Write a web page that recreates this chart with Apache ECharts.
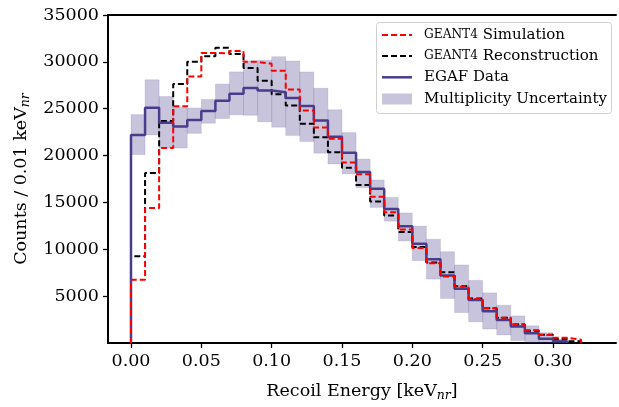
<!DOCTYPE html>
<html>
<head>
<meta charset="utf-8">
<script src="https://cdn.jsdelivr.net/npm/echarts@6/dist/echarts.min.js"></script>
<style>
html,body{margin:0;padding:0;background:#fff;}
#c{width:619px;height:407px;}
</style>
</head>
<body>
<div id="c"></div>
<script>
// Bin width (keV_nr) and histogram values per bin, starting at 0.00
var binWidth = 0.01;
var simValues = [6750, 14400, 20800, 25250, 28450, 30950, 30900, 31150, 30000, 29800, 29050, 27050, 24800, 23000, 21800, 19250, 18000, 15600, 13950, 12100, 10150, 8500, 7100, 6000, 4700, 3700, 2700, 2000, 1350, 850, 550, 350];
var recoValues = [9250, 18150, 23700, 27650, 30000, 30600, 31500, 30850, 29350, 27980, 26550, 25350, 23400, 21950, 20350, 18700, 16850, 15100, 13600, 11850, 10250, 8600, 7550, 6050, 4750, 3700, 2700, 1980, 1320, 890, 440, 200];
var dataValues = [22200, 25100, 23500, 23100, 23800, 24750, 25850, 26600, 27200, 26950, 26750, 26150, 25300, 23750, 22000, 20300, 18250, 16450, 14300, 12450, 10600, 8950, 7200, 5800, 4600, 3400, 2450, 1750, 1050, 450, 200];
var bandLower = [20100, 22200, 20800, 20800, 22370, 23450, 23950, 24350, 24300, 23600, 23030, 22130, 21490, 20260, 19100, 18050, 16580, 14470, 13000, 10890, 8790, 6820, 4750, 3250, 2260, 1490, 860, 260, 0, 0, 0];
var bandUpper = [24370, 28090, 26300, 25150, 25070, 25980, 27630, 28930, 30100, 30160, 30550, 30090, 28930, 27180, 24890, 22450, 19630, 17390, 15530, 13870, 12470, 11070, 9740, 8330, 6680, 5350, 4020, 2890, 1840, 1100, 400];
var xTicks = [0, 0.05, 0.10, 0.15, 0.20, 0.25, 0.30];
var yTicks = [5000, 10000, 15000, 20000, 25000, 30000, 35000];

function stepPoints(vals) {
  var pts = [[0, 0]];
  for (var i = 0; i < vals.length; i++) {
    pts.push([i * binWidth, vals[i]]);
    pts.push([(i + 1) * binWidth, vals[i]]);
  }
  pts.push([vals.length * binWidth, 0]);
  return pts;
}
var bandData = bandLower.map(function (lo, i) {
  return [i * binWidth, (i + 1) * binWidth, lo, bandUpper[i]];
});

var FONT = 'DejaVu Serif';
var chart = echarts.init(document.getElementById('c'), null, {renderer: 'canvas'});
var axisRich = {
  a: {fontFamily: FONT, fontSize: 17.5, color: '#000', lineHeight: 22},
  s: {fontFamily: FONT, fontSize: 12.5, fontStyle: 'italic', color: '#000', lineHeight: 14, verticalAlign: 'bottom'}
};
var legendRich = {
  sc: {fontFamily: FONT, fontSize: 12.2, color: '#000'},
  n: {fontFamily: FONT, fontSize: 15, color: '#000'}
};
var LX1 = 382, LX2 = 412, LT = 424;
var rows = [35, 56, 77.3, 99];

var option = {
  animation: false,
  backgroundColor: '#fff',
  grid: {left: 108, right: 3, top: 15, bottom: 60, containLabel: false},
  xAxis: [{
    type: 'value', min: -0.01635, max: 0.3448,
    splitLine: {show: false},
    axisLine: {show: true, onZero: false, lineStyle: {color: '#000', width: 2}},
    axisTick: {show: true, inside: false, length: 5, lineStyle: {color: '#000', width: 1.3}, customValues: xTicks},
    axisLabel: {show: true, margin: 9, fontFamily: FONT, fontSize: 17.5, color: '#000', customValues: xTicks,
      formatter: function (v) { return v.toFixed(2); }},
    name: '{a|Recoil Energy [keV}{s|nr}{a|]}',
    nameLocation: 'middle', nameGap: 37,
    nameTextStyle: {rich: axisRich}
  }, {
    type: 'value', position: 'top', min: -0.01635, max: 0.3448,
    splitLine: {show: false},
    axisLine: {show: true, onZero: false, lineStyle: {color: '#000', width: 2}},
    axisTick: {show: false}, axisLabel: {show: false}
  }],
  yAxis: {
    type: 'value', min: 0, max: 35000,
    splitLine: {show: false},
    axisLine: {show: true, onZero: false, lineStyle: {color: '#000', width: 2}},
    axisTick: {show: true, inside: false, length: 5, lineStyle: {color: '#000', width: 1.3}, customValues: yTicks},
    axisLabel: {show: true, margin: 9, fontFamily: FONT, fontSize: 17.5, color: '#000', customValues: yTicks,
      formatter: function (v) { return String(v); }},
    name: '{a|Counts / 0.01 keV}{s|nr}',
    nameLocation: 'middle', nameGap: 70, nameRotate: 90,
    nameTextStyle: {rich: axisRich}
  },
  series: [{
    type: 'custom', name: 'Multiplicity Uncertainty',
    data: bandData,
    encode: {x: [0, 1], y: [2, 3]},
    z: 1,
    renderItem: function (params, api) {
      var p1 = api.coord([api.value(0), api.value(3)]);
      var p2 = api.coord([api.value(1), api.value(2)]);
      return {
        type: 'rect',
        shape: {x: p1[0], y: p1[1], width: p2[0] - p1[0], height: p2[1] - p1[1]},
        style: {fill: 'rgba(72,61,139,0.3)', stroke: 'rgba(72,61,139,0.12)', lineWidth: 1}
      };
    }
  }, {
    type: 'line', name: 'GEANT4 Reconstruction', data: stepPoints(recoValues),
    showSymbol: false, symbol: 'none', z: 3,
    lineStyle: {color: '#000', width: 2, type: [6, 3]}
  }, {
    type: 'line', name: 'EGAF Data', data: stepPoints(dataValues),
    showSymbol: false, symbol: 'none', z: 4,
    lineStyle: {color: '#483d8b', width: 2.5}
  }, {
    type: 'line', name: 'GEANT4 Simulation', data: stepPoints(simValues),
    showSymbol: false, symbol: 'none', z: 5,
    lineStyle: {color: '#ff0000', width: 2, type: [6, 3]}
  }],
  graphic: [
    {type: 'rect', z: 100, shape: {x: 376.5, y: 22.5, width: 235, height: 91, r: 3},
      style: {fill: 'rgba(255,255,255,0.85)', stroke: '#d0d0d0', lineWidth: 1}},
    {type: 'line', z: 101, shape: {x1: LX1, y1: rows[0], x2: LX2, y2: rows[0]},
      style: {stroke: '#ff0000', lineWidth: 2, lineDash: [6, 3]}},
    {type: 'line', z: 101, shape: {x1: LX1, y1: rows[1], x2: LX2, y2: rows[1]},
      style: {stroke: '#000', lineWidth: 2, lineDash: [6, 3]}},
    {type: 'line', z: 101, shape: {x1: LX1, y1: rows[2], x2: LX2, y2: rows[2]},
      style: {stroke: '#483d8b', lineWidth: 2.5}},
    {type: 'rect', z: 101, shape: {x: LX1, y: rows[3] - 5.5, width: LX2 - LX1, height: 11},
      style: {fill: 'rgba(72,61,139,0.3)'}},
    {type: 'text', z: 101, x: LT, y: rows[0], style: {text: '{sc|GEANT4}{n| Simulation}', rich: legendRich, verticalAlign: 'middle', align: 'left'}},
    {type: 'text', z: 101, x: LT, y: rows[1], style: {text: '{sc|GEANT4}{n| Reconstruction}', rich: legendRich, verticalAlign: 'middle', align: 'left'}},
    {type: 'text', z: 101, x: LT, y: rows[2], style: {text: 'EGAF Data', fontFamily: FONT, fontSize: 15, fill: '#000', verticalAlign: 'middle', align: 'left'}},
    {type: 'text', z: 101, x: LT, y: rows[3], style: {text: 'Multiplicity Uncertainty', fontFamily: FONT, fontSize: 15, fill: '#000', verticalAlign: 'middle', align: 'left'}}
  ]
};
chart.setOption(option);
</script>
</body>
</html>
